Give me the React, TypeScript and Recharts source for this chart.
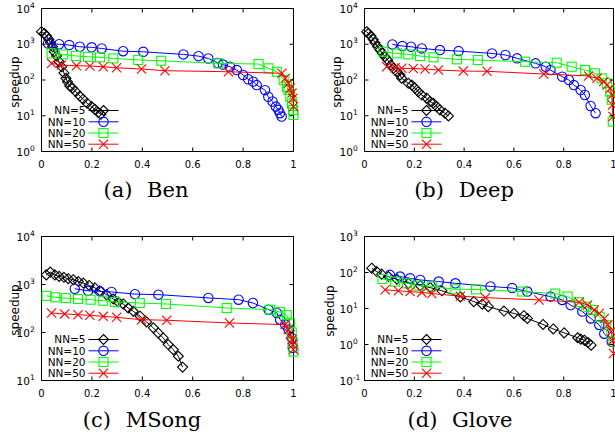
import React from "react";
import { ScatterChart, Scatter, XAxis, YAxis, ReferenceArea, Legend } from "recharts";

type Pt = [number, number];

// recall (x) vs speedup (y)
const BEN_NN5: Pt[] = [
  [0, 2240], [0.011, 2000], [0.02, 1700], [0.029, 1380], [0.036, 1100], [0.044, 850],
  [0.05, 617], [0.06, 468], [0.07, 324], [0.08, 234], [0.089, 158], [0.097, 112],
  [0.103, 89], [0.112, 68], [0.123, 59], [0.136, 47], [0.152, 35.5], [0.165, 29],
  [0.181, 22.4], [0.199, 18], [0.212, 15.1], [0.225, 12.3], [0.236, 11],
];
const BEN_NN10: Pt[] = [
  [0.026, 1050], [0.07, 1000], [0.11, 950], [0.152, 850], [0.199, 820], [0.239, 760],
  [0.324, 640], [0.404, 615], [0.563, 520], [0.623, 465], [0.662, 400], [0.7, 300],
  [0.72, 270], [0.748, 235], [0.775, 190], [0.8, 138], [0.82, 105], [0.84, 90],
  [0.854, 72], [0.887, 52], [0.9, 34], [0.917, 25], [0.93, 18], [0.94, 14.6],
  [0.946, 11.8], [0.953, 9.5],
];
const BEN_NN20: Pt[] = [
  [0.04, 555], [0.086, 520], [0.136, 470], [0.185, 447], [0.232, 430], [0.285, 403],
  [0.384, 363], [0.475, 345], [0.702, 292], [0.861, 280], [0.901, 212], [0.934, 170],
  [0.961, 100], [0.974, 65], [0.98, 53], [0.987, 34], [0.994, 22], [0.998, 14.6], [1.0, 10.5],
];
const BEN_NN50: Pt[] = [
  [0.04, 292], [0.079, 262], [0.139, 251], [0.192, 246], [0.245, 235], [0.298, 220],
  [0.397, 203], [0.49, 182], [0.742, 170], [0.954, 154], [0.967, 111], [0.98, 81],
  [0.987, 59], [0.994, 43], [0.998, 31], [1.0, 18],
];

const DEEP_NN5: Pt[] = [
  [0.009, 2240], [0.015, 2000], [0.026, 1700], [0.035, 1365], [0.042, 1100], [0.053, 850],
  [0.062, 687], [0.072, 555], [0.082, 447], [0.093, 361], [0.106, 263], [0.116, 212],
  [0.129, 170], [0.143, 138], [0.149, 112], [0.176, 81], [0.19, 72], [0.203, 59],
  [0.216, 47], [0.23, 38], [0.25, 31], [0.263, 25], [0.276, 22.4], [0.29, 18],
  [0.303, 14.6], [0.323, 11.8], [0.337, 9.9],
];
const DEEP_NN10: Pt[] = [
  [0.112, 990], [0.152, 890], [0.187, 850], [0.23, 766], [0.303, 687], [0.378, 643],
  [0.512, 555], [0.566, 500], [0.613, 403], [0.687, 292], [0.728, 235], [0.747, 190],
  [0.794, 124], [0.821, 100], [0.841, 72], [0.868, 52.5], [0.885, 38], [0.908, 18.8],
  [0.928, 11.8],
];
const DEEP_NN20: Pt[] = [
  [0.076, 617], [0.13, 555], [0.176, 521], [0.223, 468], [0.277, 430], [0.371, 378],
  [0.455, 361], [0.645, 324], [0.772, 304], [0.832, 235], [0.886, 190], [0.926, 154],
  [0.953, 111], [0.973, 81], [0.987, 47], [0.993, 28], [0.997, 6.9],
];
const DEEP_NN50: Pt[] = [
  [0.089, 235], [0.123, 220], [0.15, 212], [0.196, 210], [0.243, 203], [0.297, 190],
  [0.397, 178], [0.492, 175], [0.72, 147], [0.9, 130], [0.934, 111], [0.961, 90],
  [0.974, 72.5], [0.987, 59], [0.994, 38], [0.996, 20], [0.998, 9.5],
];

const MSONG_NN5: Pt[] = [
  [0.019, 1585], [0.035, 1820], [0.053, 1585], [0.07, 1475], [0.089, 1410], [0.106, 1320],
  [0.126, 1260], [0.146, 1150], [0.166, 1070], [0.189, 955], [0.212, 850], [0.232, 740],
  [0.258, 615], [0.285, 500], [0.304, 432], [0.324, 393], [0.344, 324], [0.364, 277],
  [0.391, 219], [0.417, 166], [0.444, 125], [0.463, 98], [0.483, 77], [0.503, 56],
  [0.523, 44], [0.543, 32], [0.56, 19],
];
const MSONG_NN10: Pt[] = [
  [0.132, 815], [0.185, 740], [0.232, 720], [0.278, 700], [0.371, 630], [0.464, 615],
  [0.662, 525], [0.782, 483], [0.839, 412], [0.901, 299], [0.934, 255], [0.947, 185],
  [0.967, 146], [0.98, 115], [0.993, 77], [0.997, 48],
];
const MSONG_NN20: Pt[] = [
  [0.02, 580], [0.055, 540], [0.097, 520], [0.145, 500], [0.195, 483], [0.245, 460],
  [0.291, 432], [0.39, 412], [0.494, 393], [0.735, 324], [0.907, 299], [0.947, 265],
  [0.973, 230], [0.986, 160], [0.993, 100], [0.997, 62], [1.0, 40],
];
const MSONG_NN50: Pt[] = [
  [0.04, 255], [0.092, 244], [0.145, 235], [0.192, 228], [0.245, 217], [0.298, 207],
  [0.397, 185], [0.497, 180], [0.746, 158], [0.967, 146], [0.98, 115], [0.987, 90],
  [0.994, 71], [0.997, 56], [1.0, 44],
];

const GLOVE_NN5: Pt[] = [
  [0.029, 132], [0.049, 106], [0.069, 90], [0.096, 77], [0.13, 65], [0.177, 50],
  [0.224, 43], [0.264, 38], [0.311, 31], [0.385, 21], [0.439, 15.5], [0.473, 13.2],
  [0.497, 11.2], [0.56, 8.5], [0.6, 7.3], [0.64, 6.3], [0.654, 5.3], [0.717, 3.6],
  [0.758, 2.7], [0.802, 2.1], [0.856, 1.54], [0.869, 1.41], [0.883, 1.32], [0.897, 1.14],
  [0.91, 0.96],
];
const GLOVE_NN10: Pt[] = [
  [0.102, 86], [0.143, 77], [0.183, 69], [0.224, 62], [0.298, 56], [0.365, 50],
  [0.506, 41], [0.593, 37], [0.654, 29.5], [0.747, 21.4], [0.794, 17.3], [0.828, 12.5],
  [0.875, 8.2], [0.909, 5.3], [0.943, 3.5], [0.963, 2.0], [0.993, 1.19],
];
const GLOVE_NN20: Pt[] = [
  [0.072, 66], [0.123, 56], [0.17, 50], [0.217, 43], [0.271, 41], [0.365, 34],
  [0.448, 34], [0.634, 29.5], [0.766, 26], [0.816, 21.4], [0.86, 15], [0.89, 11.2],
  [0.917, 9.1], [0.944, 5.9], [0.971, 3.5], [0.991, 2.0], [1.0, 1.2],
];
const GLOVE_NN50: Pt[] = [
  [0.083, 33], [0.136, 31], [0.183, 29.5], [0.23, 28], [0.27, 26], [0.385, 22],
  [0.486, 20], [0.701, 17.3], [0.862, 14.9], [0.896, 12.5], [0.923, 9.1], [0.943, 7.3],
  [0.963, 5.3], [0.977, 3.5], [0.991, 2.3], [0.997, 1.3], [1.0, 0.56],
];

const SERIES_NAMES = ["NN=5", "NN=10", "NN=20", "NN=50"];
const SERIES_COLORS = ["#000000", "#0000ff", "#00ff00", "#ff0000"];
const SERIES_MARKERS = ["diamond", "circle", "square", "cross"];
const X_TICKS = [0, 0.2, 0.4, 0.6, 0.8, 1];

const SANS = "'DejaVu Sans', sans-serif";
const SERIF = "'DejaVu Serif', serif";

// page-pixel layout of the four sub-figures
const PANELS = [
  {
    key: "a", tag: "(a)", title: "Ben",
    series: [BEN_NN5, BEN_NN10, BEN_NN20, BEN_NN50],
    yDomain: [1, 10000], yTicks: [1, 10, 100, 1000, 10000],
    left: 0, top: 0, width: 305, height: 215,
    plot: { x0: 41.5, y0: 8.5, x1: 293.5, y1: 151.5 },
    ylab: { x: 15, y: 82 }, cap: { x: 146, y: 197 },
  },
  {
    key: "b", tag: "(b)", title: "Deep",
    series: [DEEP_NN5, DEEP_NN10, DEEP_NN20, DEEP_NN50],
    yDomain: [1, 10000], yTicks: [1, 10, 100, 1000, 10000],
    left: 305, top: 0, width: 310, height: 215,
    plot: { x0: 364.5, y0: 8.5, x1: 613.5, y1: 151.5 },
    ylab: { x: 337, y: 82 }, cap: { x: 464, y: 197 },
  },
  {
    key: "c", tag: "(c)", title: "MSong",
    series: [MSONG_NN5, MSONG_NN10, MSONG_NN20, MSONG_NN50],
    yDomain: [10, 10000], yTicks: [10, 100, 1000, 10000],
    left: 0, top: 215, width: 305, height: 220,
    plot: { x0: 41.5, y0: 236.5, x1: 293.5, y1: 380.5 },
    ylab: { x: 15, y: 310 }, cap: { x: 142, y: 427 },
  },
  {
    key: "d", tag: "(d)", title: "Glove",
    series: [GLOVE_NN5, GLOVE_NN10, GLOVE_NN20, GLOVE_NN50],
    yDomain: [0.1, 1000], yTicks: [0.1, 1, 10, 100, 1000],
    left: 305, top: 215, width: 310, height: 220,
    plot: { x0: 364.5, y0: 236.5, x1: 613.5, y1: 380.5 },
    ylab: { x: 330, y: 311 }, cap: { x: 460, y: 427 },
  },
];

const YW = 40;
const XH = 25;

function Marker({ cx, cy, kind, color }: any) {
  const common = { fill: "none", stroke: color, strokeWidth: 1.1 };
  if (kind === "diamond") {
    const r = 5;
    return <path d={`M${cx},${cy - r}L${cx + r},${cy}L${cx},${cy + r}L${cx - r},${cy}Z`} {...common} />;
  }
  if (kind === "circle") return <circle cx={cx} cy={cy} r={4.7} {...common} />;
  if (kind === "square") return <rect x={cx - 4.5} y={cy - 4.5} width={9} height={9} {...common} />;
  const r = 4.6;
  return (
    <path d={`M${cx - r},${cy - r}L${cx + r},${cy + r}M${cx - r},${cy + r}L${cx + r},${cy - r}`} {...common} />
  );
}

function fmtX(v: number) {
  return v === 0 ? "0" : v === 1 ? "1" : v.toFixed(1);
}

// own prop names, so the axis label cloning cannot move them
function Caption({ px, py, tag, title }: any) {
  return (
    <text x={px} y={py} textAnchor="middle" fontFamily={SERIF} fontSize={21} fill="#000">
      {tag}
      <tspan dx={8}>{" " + title}</tspan>
    </text>
  );
}

function YTitle({ px, py }: any) {
  return (
    <text
      x={px}
      y={py}
      textAnchor="middle"
      dominantBaseline="central"
      transform={`rotate(-90, ${px}, ${py})`}
      fontFamily={SANS}
      fontSize={12}
      fill="#000"
    >
      speedup
    </text>
  );
}

function LegendBox({ payload }: any) {
  const rows = SERIES_NAMES.map((name, i) => {
    const entry = (payload || []).find((e: any) => e.value === name);
    return { name, color: entry?.color || SERIES_COLORS[i], kind: SERIES_MARKERS[i] };
  });
  const ys = [8.5, 19.8, 31, 42.2];
  return (
    <svg width={90} height={50} style={{ display: "block", overflow: "visible" }}>
      {rows.map((r, i) => (
        <g key={r.name}>
          <text x={43.5} y={ys[i] + 3.8} textAnchor="end" fontFamily={SANS} fontSize={10.5} fill="#000">
            {r.name}
          </text>
          <line x1={46.5} x2={76.5} y1={ys[i]} y2={ys[i]} stroke={r.color} strokeWidth={1} />
          <Marker cx={61.5} cy={ys[i]} kind={r.kind} color={r.color} />
        </g>
      ))}
    </svg>
  );
}

function Panel({ p }: any) {
  const x0 = p.plot.x0 - p.left;
  const x1 = p.plot.x1 - p.left;
  const y0 = p.plot.y0 - p.top;
  const y1 = p.plot.y1 - p.top;
  const margin = { top: y0, left: x0 - YW, right: p.width - x1, bottom: p.height - y1 - XH };

  const xTick = (tp: any) => {
    const { x, payload } = tp;
    return (
      <g>
        <line x1={x} x2={x} y1={y1} y2={y1 - 4} stroke="#000" />
        <line x1={x} x2={x} y1={y0} y2={y0 + 4} stroke="#000" />
        <text x={x} y={y1 + 16.5} textAnchor="middle" fontFamily={SANS} fontSize={10} fill="#000">
          {fmtX(payload.value)}
        </text>
      </g>
    );
  };

  const yTick = (tp: any) => {
    const { y, payload } = tp;
    const exp = Math.round(Math.log10(payload.value));
    return (
      <g>
        <line x1={x0} x2={x0 + 4} y1={y} y2={y} stroke="#000" />
        <line x1={x1 - 4} x2={x1} y1={y} y2={y} stroke="#000" />
        <text x={x0 - 25} y={y + 4} textAnchor="start" fontFamily={SANS} fontSize={10.5} fill="#000">
          10
          <tspan dy={-5} fontSize={7.5}>{exp}</tspan>
        </text>
      </g>
    );
  };

  return (
    <div style={{ position: "absolute", left: p.left, top: p.top }}>
      <ScatterChart width={p.width} height={p.height} margin={margin}>
        <XAxis
          type="number"
          dataKey="x"
          domain={[0, 1]}
          ticks={X_TICKS}
          interval={0}
          height={XH}
          axisLine={false}
          tickLine={false}
          tickSize={0}
          tickMargin={0}
          tick={xTick}
          label={<Caption px={p.cap.x - p.left} py={p.cap.y - p.top} tag={p.tag} title={p.title} />}
        />
        <YAxis
          type="number"
          dataKey="y"
          scale="log"
          domain={p.yDomain}
          ticks={p.yTicks}
          interval={0}
          width={YW}
          axisLine={false}
          tickLine={false}
          tickSize={0}
          tickMargin={0}
          tick={yTick}
          label={<YTitle px={p.ylab.x - p.left} py={p.ylab.y - p.top} />}
        />
        <ReferenceArea
          x1={0}
          x2={1}
          y1={p.yDomain[0]}
          y2={p.yDomain[1]}
          fill="none"
          fillOpacity={0}
          stroke="#000"
          strokeWidth={1}
        />
        {p.series.map((pts: Pt[], i: number) => (
          <Scatter
            key={SERIES_NAMES[i]}
            name={SERIES_NAMES[i]}
            data={pts.map(([x, y]) => ({ x, y }))}
            fill={SERIES_COLORS[i]}
            line={{ stroke: SERIES_COLORS[i], strokeWidth: 1 }}
            lineType="joint"
            shape={(sp: any) => <Marker cx={sp.cx} cy={sp.cy} kind={SERIES_MARKERS[i]} color={SERIES_COLORS[i]} />}
            isAnimationActive={false}
          />
        ))}
        <Legend
          layout="vertical"
          align="center"
          verticalAlign="middle"
          wrapperStyle={{ left: x0, top: y1 - 50, width: 90, height: 50 }}
          content={(lp: any) => <LegendBox payload={lp.payload} />}
        />
      </ScatterChart>
    </div>
  );
}

export default function App() {
  return (
    <div
      style={{
        position: "absolute",
        left: 0,
        top: 0,
        width: 615,
        height: 435,
        background: "#fff",
        overflow: "hidden",
      }}
    >
      {PANELS.map((p) => (
        <Panel key={p.key} p={p} />
      ))}
    </div>
  );
}
